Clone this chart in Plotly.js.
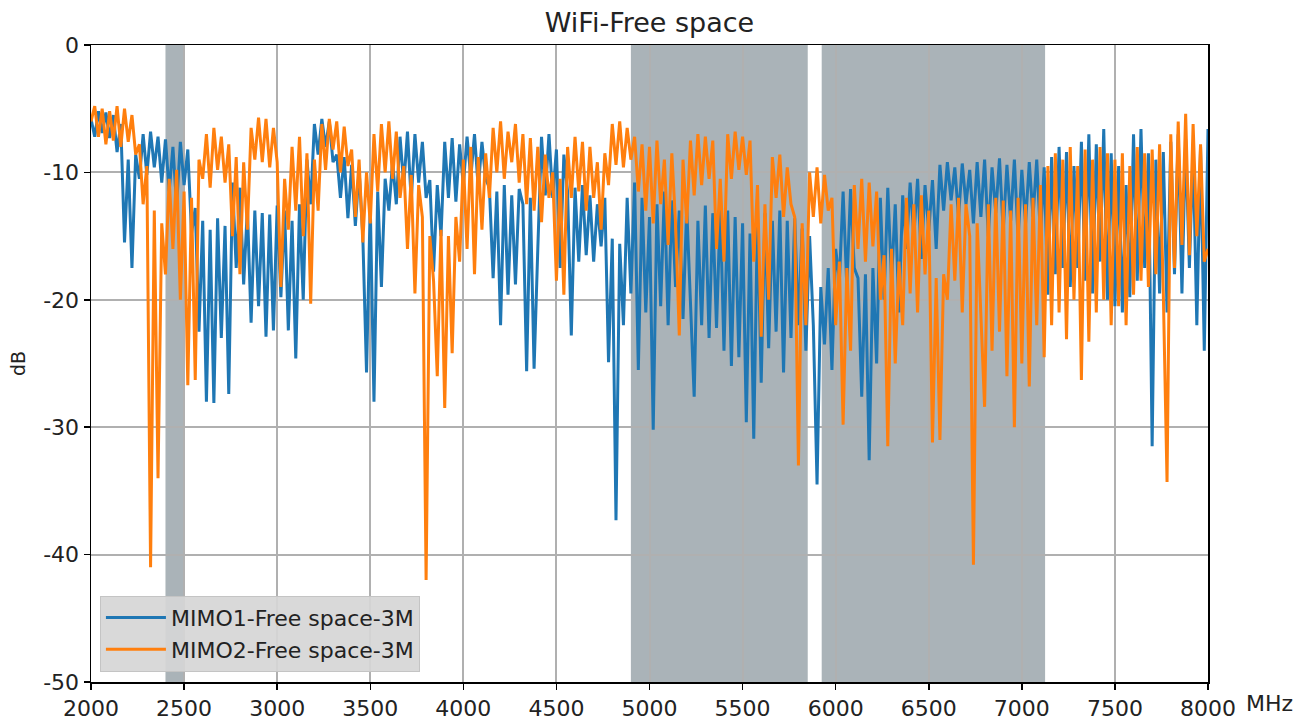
<!DOCTYPE html>
<html>
<head>
<meta charset="utf-8">
<script src="https://cdn.plot.ly/plotly-3.0.1.min.js"></script>
<style>html,body{margin:0;padding:0;background:#fff;}#chart{width:1305px;height:720px;}</style>
</head>
<body>
<div id="chart"></div>
<script>
// Frequency grid: start 2000 MHz, step 20 MHz (one value per step below)
const freqStart = 2000;
const freqStep = 20;

// MIMO1-Free space-3M (dB), rows of 100 MHz
const mimo1 = [
  -5.8, -7.2, -5.2, -6.9, -5.3,      // 2000
  -7.3, -5.5, -8.4, -6.2, -15.5,     // 2100
  -9.0, -17.5, -8.6, -10.5, -7.0,    // 2200
  -10.2, -6.8, -9.6, -7.2, -10.8,    // 2300
  -7.4, -11.5, -8.0, -12.6, -7.6,    // 2400
  -11.0, -8.2, -14.8, -12.8, -22.5,  // 2500
  -13.8, -28.0, -14.5, -28.1, -13.6, // 2600
  -23.0, -14.2, -27.4, -10.8, -17.5, // 2700
  -11.2, -18.8, -12.8, -21.8, -13.0, // 2800
  -20.5, -13.2, -22.9, -13.3, -22.4, // 2900
  -12.6, -19.8, -13.0, -22.4, -13.8, // 3000
  -24.6, -12.5, -20.0, -9.0, -12.5,  // 3100
  -6.2, -8.6, -5.8, -8.0, -6.0,      // 3200
  -9.2, -8.6, -12.0, -8.8, -13.6,    // 3300
  -9.4, -14.2, -9.8, -15.0, -25.7,   // 3400
  -12.5, -28.0, -11.5, -19.0, -10.5, // 3500
  -13.0, -9.2, -12.5, -7.2, -11.0,   // 3600
  -6.8, -12.2, -7.0, -10.8, -7.6,    // 3700
  -12.0, -10.6, -17.8, -11.0, -15.0, // 3800
  -7.6, -12.0, -7.3, -12.3, -7.8,    // 3900
  -11.0, -7.2, -10.4, -7.0, -11.2,   // 4000
  -7.6, -10.5, -11.2, -18.3, -11.5,  // 4100
  -22.0, -11.0, -19.6, -11.8, -18.8, // 4200
  -11.3, -12.5, -25.6, -12.0, -25.4, // 4300
  -16.0, -7.2, -11.8, -7.0, -12.0,   // 4400
  -8.2, -17.5, -8.6, -11.5, -22.8,   // 4500
  -11.2, -17.0, -11.0, -16.5, -11.8, // 4600
  -17.0, -12.5, -15.8, -12.0, -24.9, // 4700
  -15.2, -37.3, -15.6, -22.0, -12.0, // 4800
  -19.5, -10.8, -25.5, -12.0, -21.0, // 4900
  -13.5, -30.2, -12.5, -20.5, -11.5, // 5000
  -22.0, -12.2, -19.0, -13.0, -21.5, // 5100
  -12.8, -20.0, -27.6, -13.8, -22.0, // 5200
  -12.6, -23.0, -13.2, -22.2, -12.8, // 5300
  -24.0, -13.0, -25.2, -13.5, -24.5, // 5400
  -14.0, -29.6, -14.8, -30.9, -13.4, // 5500
  -26.5, -13.2, -23.8, -13.8, -22.5, // 5600
  -13.0, -25.7, -13.8, -23.0, -13.6, // 5700
  -22.0, -14.4, -24.0, -15.0, -22.0, // 5800
  -34.5, -19.0, -23.5, -17.5, -25.5, // 5900
  -16.0, -18.5, -11.5, -19.0, -11.3, // 6000
  -17.5, -18.3, -27.6, -18.0, -32.6, // 6100
  -17.5, -25.0, -12.0, -20.0, -11.2, // 6200
  -18.5, -12.5, -21.0, -11.8, -16.0, // 6300
  -10.8, -15.0, -10.5, -16.8, -11.0, // 6400
  -14.6, -10.6, -16.0, -9.4, -13.0,  // 6500
  -9.2, -12.2, -9.6, -13.5, -9.3,    // 6600
  -12.5, -9.8, -14.0, -9.2, -13.5,   // 6700
  -9.0, -15.0, -9.6, -13.2, -8.9,    // 6800
  -14.6, -9.4, -13.8, -9.0, -15.2,   // 6900
  -9.8, -14.0, -9.2, -13.5, -9.0,    // 7000
  -15.0, -9.6, -19.6, -8.8, -18.0,   // 7100
  -8.0, -17.5, -8.4, -19.0, -9.5,    // 7200
  -17.5, -7.6, -18.5, -7.0, -19.5,   // 7300
  -7.8, -17.0, -6.6, -20.0, -8.5,    // 7400
  -20.5, -9.5, -21.0, -11.0, -19.8,  // 7500
  -7.0, -18.5, -6.6, -17.5, -8.5,    // 7600
  -31.5, -9.0, -19.5, -8.4, -21.0,   // 7700
  -7.6, -18.0, -7.0, -19.5, -7.4,    // 7800
  -17.5, -8.2, -22.0, -8.0, -24.0,   // 7900
  -6.6                               // 8000
];

// MIMO2-Free space-3M (dB), rows of 100 MHz
const mimo2 = [
  -6.0, -4.8, -7.2, -5.0, -7.8,      // 2000
  -5.2, -7.5, -4.8, -8.0, -5.0,      // 2100
  -7.6, -5.5, -8.6, -7.8, -12.5,     // 2200
  -9.5, -41.0, -13.0, -34.0, -14.0,  // 2300
  -18.0, -10.5, -16.0, -9.8, -20.0,  // 2400
  -11.5, -26.7, -12.0, -26.3, -9.0,  // 2500
  -10.5, -7.0, -11.2, -6.5, -9.8,    // 2600
  -7.2, -10.8, -7.8, -15.0, -8.8,    // 2700
  -18.0, -9.2, -14.5, -6.5, -9.0,    // 2800
  -5.7, -9.2, -5.8, -9.6, -6.5,      // 2900
  -9.2, -19.0, -10.5, -14.5, -8.0,   // 3000
  -13.0, -7.2, -15.0, -8.5, -20.3,   // 3100
  -9.0, -13.0, -6.2, -9.8, -5.8,     // 3200
  -8.2, -6.0, -10.0, -6.4, -9.5,     // 3300
  -8.2, -13.5, -9.0, -15.5, -10.0,   // 3400
  -14.0, -7.0, -11.5, -6.2, -10.0,   // 3500
  -6.0, -10.5, -6.8, -12.0, -9.5,    // 3600
  -16.0, -10.2, -19.5, -11.0, -13.5, // 3700
  -42.0, -15.0, -18.5, -26.0, -14.5, // 3800
  -28.5, -15.0, -24.2, -13.5, -17.0, // 3900
  -9.0, -16.0, -8.0, -18.0, -8.8,    // 4000
  -14.5, -8.5, -12.0, -6.5, -10.0,   // 4100
  -6.0, -10.5, -6.8, -9.2, -6.2,     // 4200
  -10.8, -7.0, -12.5, -7.3, -13.0,   // 4300
  -8.0, -13.9, -8.6, -12.0, -10.0,   // 4400
  -18.5, -10.5, -19.6, -8.0, -12.0,  // 4500
  -7.2, -11.5, -7.6, -13.0, -8.0,    // 4600
  -12.0, -9.2, -14.5, -8.5, -11.0,   // 4700
  -6.2, -9.4, -6.0, -9.6, -6.5,      // 4800
  -9.0, -7.2, -11.5, -7.8, -13.0,    // 4900
  -8.0, -14.0, -7.5, -12.5, -9.0,    // 5000
  -15.7, -8.5, -14.0, -22.8, -9.0,   // 5100
  -14.0, -7.5, -11.8, -7.0, -11.0,   // 5200
  -7.2, -10.5, -7.5, -16.0, -10.5,   // 5300
  -17.0, -7.0, -10.5, -6.8, -9.8,    // 5400
  -7.2, -10.2, -7.5, -17.0, -11.0,   // 5500
  -22.9, -12.5, -20.0, -8.8, -12.0,  // 5600
  -8.6, -13.5, -9.6, -12.5, -13.5,   // 5700
  -33.0, -14.0, -22.0, -10.0, -13.5, // 5800
  -9.6, -14.0, -10.2, -13.0, -12.0,  // 5900
  -22.0, -17.0, -29.8, -17.5, -24.0, // 6000
  -11.0, -16.0, -10.5, -17.0, -10.8, // 6100
  -15.8, -11.5, -20.0, -16.5, -31.5, // 6200
  -16.0, -25.0, -17.0, -22.0, -12.0, // 6300
  -19.5, -12.5, -21.0, -11.8, -18.0, // 6400
  -13.0, -31.2, -18.3, -31.0, -18.0, // 6500
  -20.0, -12.5, -18.5, -12.0, -21.0, // 6600
  -12.5, -15.0, -40.8, -14.0, -21.0, // 6700
  -28.4, -12.5, -24.0, -12.0, -22.5, // 6800
  -12.2, -26.0, -13.0, -30.0, -12.0, // 6900
  -25.0, -12.5, -26.8, -12.0, -22.0, // 7000
  -11.0, -24.5, -9.5, -22.0, -8.5,   // 7100
  -21.0, -9.0, -23.1, -8.0, -20.0,   // 7200
  -9.5, -26.3, -8.2, -23.3, -9.0,    // 7300
  -21.0, -8.0, -20.0, -8.5, -22.0,   // 7400
  -9.0, -20.5, -8.5, -22.0, -9.5,    // 7500
  -19.6, -8.0, -18.5, -8.5, -19.0,   // 7600
  -8.2, -18.0, -7.8, -19.5, -34.3,   // 7700
  -7.0, -17.5, -6.0, -15.7, -5.4,    // 7800
  -16.5, -6.2, -15.0, -7.8, -17.0,   // 7900
  -16.0                              // 8000
];

const seriesNames = ['MIMO1-Free space-3M', 'MIMO2-Free space-3M'];

// WiFi bands shaded (MHz)
const bandStart = [2400, 4900, 5925];
const bandEnd = [2500, 5850, 7125];

const xTickVals = [2000, 2500, 3000, 3500, 4000, 4500, 5000, 5500, 6000, 6500, 7000, 7500, 8000];
const yTickVals = [0, -10, -20, -30, -40, -50];
const yTickText = ['0', '-10', '-20', '-30', '-40', '-50'];

const FONT = 'DejaVu Sans, sans-serif';

const traces = [
  {type: 'scatter', mode: 'lines', name: seriesNames[0], y: mimo1, x0: freqStart, dx: freqStep,
   line: {color: '#1f77b4', width: 3}},
  {type: 'scatter', mode: 'lines', name: seriesNames[1], y: mimo2, x0: freqStart, dx: freqStep,
   line: {color: '#ff7f0e', width: 3}}
];

const shapes = bandStart.map((s, i) => ({
  type: 'rect', xref: 'x', yref: 'paper', x0: s, x1: bandEnd[i], y0: 0, y1: 1,
  fillcolor: '#aab3b8', line: {width: 0}, layer: 'below'
}));

const layout = {
  width: 1305, height: 720,
  margin: {l: 91, r: 97, t: 45, b: 38},
  paper_bgcolor: '#ffffff', plot_bgcolor: '#ffffff',
  font: {family: FONT, size: 22, color: '#222'},
  title: {text: 'WiFi-Free space', font: {family: FONT, size: 27, color: '#222'},
          x: 0.5, xref: 'paper', y: 0.968, yref: 'container', yanchor: 'middle'},
  showlegend: true,
  legend: {x: 0.008, y: 0.016, xanchor: 'left', yanchor: 'bottom', itemwidth: 60,
           bgcolor: 'rgba(214,214,214,0.92)', bordercolor: '#c4c4c4', borderwidth: 1,
           font: {family: FONT, size: 22, color: '#222'}, traceorder: 'normal'},
  xaxis: {range: [2000, 8000], tickvals: xTickVals, ticks: 'outside', ticklen: 6, tickwidth: 1.5,
          tickcolor: '#000', showline: true, linecolor: '#000', linewidth: 1.5, mirror: true,
          showgrid: true, gridcolor: '#b0b0b0', gridwidth: 2, zeroline: false,
          tickfont: {family: FONT, size: 22, color: '#222'}},
  yaxis: {range: [-50, 0], tickvals: yTickVals, ticktext: yTickText, ticks: 'outside', ticklen: 6, tickwidth: 1.5,
          tickcolor: '#000', showline: true, linecolor: '#000', linewidth: 1.5, mirror: true,
          showgrid: true, gridcolor: '#b0b0b0', gridwidth: 2, zeroline: false,
          tickfont: {family: FONT, size: 22, color: '#222'},
          title: {text: 'dB', font: {family: FONT, size: 19, color: '#222'}, standoff: 12}},
  shapes: shapes,
  annotations: [{text: 'MHz', xref: 'paper', yref: 'paper', x: 1, y: 0, xanchor: 'left', yanchor: 'top',
                 xshift: 36, yshift: -7, showarrow: false, font: {family: FONT, size: 22, color: '#222'}}]
};

Plotly.newPlot('chart', traces, layout, {displayModeBar: false, staticPlot: true});
</script>
</body>
</html>
